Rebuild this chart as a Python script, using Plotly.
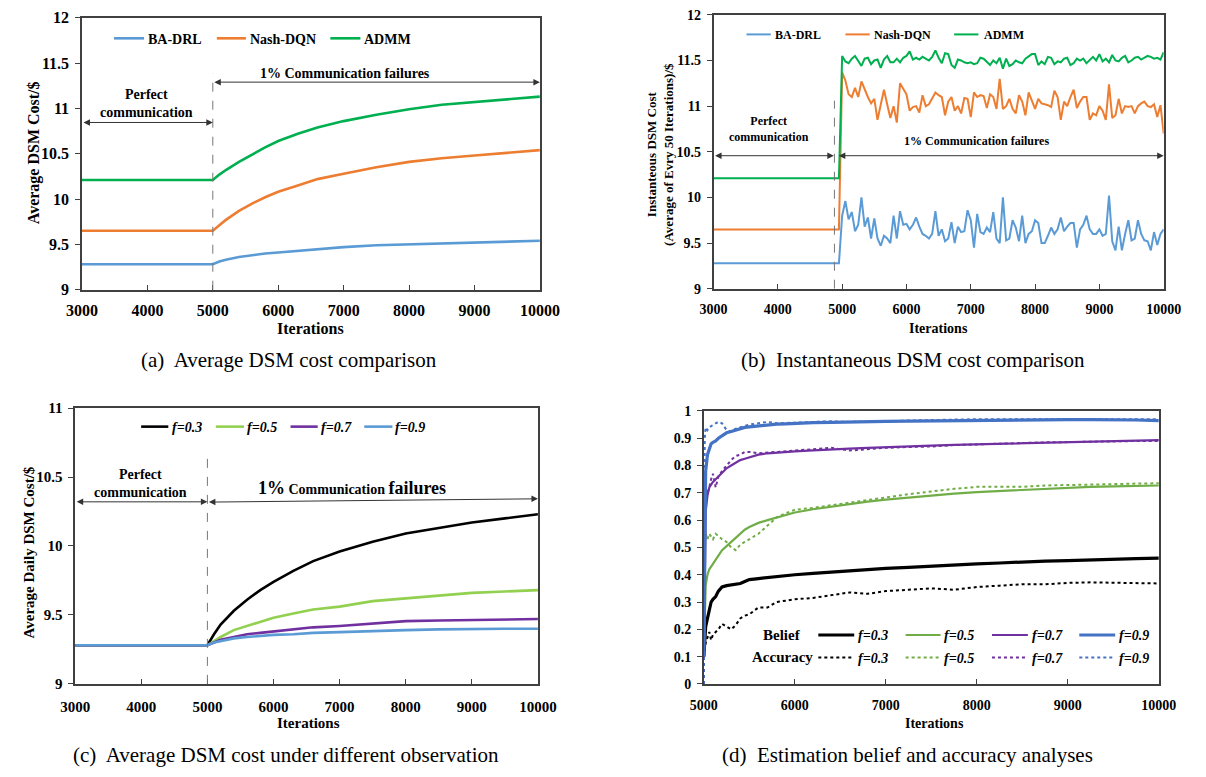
import numpy as np
import plotly.graph_objects as go

W, H = 1206, 777
SERIF = "Liberation Serif, Times New Roman, Times, DejaVu Serif, serif"

# ---------------- (a) average DSM cost ----------------
iters_a = [3000, 5000, 5100, 5200, 5400, 5600, 5800, 6000, 6300, 6600, 7000, 7500, 8000, 8500, 9000, 9500, 10000]
admm_a = [10.21, 10.21, 10.27, 10.32, 10.41, 10.49, 10.57, 10.64, 10.72, 10.79, 10.86, 10.93, 10.99, 11.04, 11.07, 11.10, 11.13]
nash_a = [9.65, 9.65, 9.71, 9.77, 9.87, 9.95, 10.02, 10.08, 10.15, 10.22, 10.28, 10.35, 10.41, 10.45, 10.48, 10.51, 10.54]
badrl_a = [9.28, 9.28, 9.31, 9.33, 9.36, 9.38, 9.40, 9.41, 9.43, 9.45, 9.47, 9.49, 9.50, 9.51, 9.52, 9.53, 9.54]

# ---------------- (b) instantaneous DSM cost (mean of every 50 iterations) ----------------
iters_b_flat = [3000, 4950]
admm_b_flat = [10.21, 10.21]
nash_b_flat = [9.65, 9.65]
badrl_b_flat = [9.28, 9.28]
iters_b_start, iters_b_end = 5000, 10000
admm_b = [11.55, 11.49, 11.47, 11.52, 11.55, 11.50, 11.44, 11.52, 11.53, 11.46,
          11.50, 11.51, 11.42, 11.51, 11.55, 11.48, 11.48, 11.52, 11.48, 11.53,
          11.55, 11.60, 11.51, 11.53, 11.51, 11.54, 11.52, 11.50, 11.54, 11.61,
          11.53, 11.47, 11.58, 11.57, 11.45, 11.42, 11.51, 11.50, 11.48, 11.47,
          11.48, 11.46, 11.47, 11.53, 11.52, 11.48, 11.45, 11.50, 11.47, 11.53,
          11.41, 11.52, 11.44, 11.46, 11.50, 11.48, 11.47, 11.52, 11.55, 11.57,
          11.57, 11.45, 11.49, 11.46, 11.54, 11.53, 11.46, 11.49, 11.48, 11.52,
          11.53, 11.45, 11.47, 11.52, 11.50, 11.52, 11.47, 11.51, 11.54, 11.50,
          11.57, 11.49, 11.52, 11.48, 11.56, 11.50, 11.49, 11.53, 11.55, 11.48,
          11.50, 11.53, 11.54, 11.51, 11.53, 11.55, 11.54, 11.52, 11.53, 11.51,
          11.59]
nash_b = [11.37, 11.28, 11.13, 11.10, 11.20, 11.10, 11.27, 11.18, 11.10, 11.03,
          11.08, 10.85, 11.00, 11.18, 11.02, 10.87, 11.00, 10.82, 11.25, 11.19,
          11.13, 10.95, 10.99, 11.00, 10.93, 11.12, 11.00, 11.02, 11.08, 11.15,
          11.12, 11.10, 10.90, 11.05, 11.10, 10.95, 11.00, 10.92, 11.09, 11.08,
          10.88, 11.15, 11.10, 11.12, 11.11, 10.98, 11.13, 11.10, 10.97, 11.30,
          10.97, 11.00, 11.08, 10.97, 10.92, 11.12, 11.05, 10.90, 11.15, 11.05,
          10.97, 11.08, 11.03, 11.02, 11.01, 10.99, 11.17, 11.10, 10.85, 11.05,
          11.00, 11.10, 11.18, 10.98, 11.05, 11.10, 11.10, 10.85, 10.92, 10.90,
          11.00, 10.95, 10.85, 11.24, 10.87, 10.90, 11.08, 10.92, 11.00, 10.99,
          11.00, 10.92, 11.00, 11.03, 11.05, 11.00, 10.99, 11.02, 10.88, 11.01,
          10.70]
badrl_b = [9.80, 9.96, 9.76, 9.84, 9.63, 9.70, 10.00, 9.68, 9.78, 9.55,
           9.77, 9.55, 9.47, 9.58, 9.55, 9.50, 9.80, 9.55, 9.85, 9.70,
           9.71, 9.65, 9.70, 9.78, 9.68, 9.60, 9.58, 9.55, 9.60, 9.85,
           9.58, 9.65, 9.52, 9.55, 9.73, 9.50, 9.68, 9.62, 9.63, 9.86,
           9.75, 9.45, 9.82, 9.62, 9.60, 9.67, 9.62, 9.84, 9.55, 9.50,
           10.00, 9.53, 9.55, 9.75, 9.67, 9.52, 9.80, 9.50, 9.60, 9.63,
           9.75, 9.72, 9.50, 9.50, 9.58, 9.67, 9.60, 9.65, 9.78, 9.63,
           9.68, 9.72, 9.72, 9.45, 9.65, 9.70, 9.80, 9.65, 9.60, 9.60,
           9.65, 9.58, 9.60, 10.02, 9.52, 9.42, 9.68, 9.42, 9.60, 9.75,
           9.53, 9.55, 9.75, 9.60, 9.53, 9.52, 9.42, 9.62, 9.48, 9.60,
           9.65]

# ---------------- (c) average daily DSM cost vs observation probability ----------------
iters_c = [3000, 5000, 5100, 5200, 5400, 5600, 5800, 6000, 6300, 6600, 7000, 7500, 8000, 8500, 9000, 9500, 10000]
f03_c = [9.28, 9.28, 9.36, 9.43, 9.53, 9.61, 9.68, 9.74, 9.82, 9.89, 9.96, 10.03, 10.09, 10.13, 10.17, 10.20, 10.23]
f05_c = [9.28, 9.28, 9.31, 9.34, 9.39, 9.42, 9.45, 9.48, 9.51, 9.54, 9.56, 9.60, 9.62, 9.64, 9.66, 9.67, 9.68]
f07_c = [9.28, 9.28, 9.30, 9.32, 9.34, 9.36, 9.37, 9.38, 9.395, 9.41, 9.42, 9.44, 9.455, 9.46, 9.465, 9.47, 9.47]
f09_c = [9.28, 9.28, 9.30, 9.31, 9.33, 9.34, 9.35, 9.355, 9.36, 9.37, 9.375, 9.385, 9.39, 9.395, 9.40, 9.40, 9.40]

# ---------------- (d) estimation belief and accuracy ----------------
iters_d = [5000, 5010, 5020, 5040, 5060, 5080, 5100, 5130, 5160, 5200, 5250, 5300, 5350, 5400, 5450, 5500,
           5600, 5700, 5800, 5900, 6000, 6200, 6400, 6600, 6800, 7000, 7250, 7500, 7750, 8000, 8250, 8500,
           8750, 9000, 9250, 9500, 9750, 10000]
belief_09 = [0.10, 0.62, 0.78, 0.84, 0.86, 0.88, 0.885, 0.89, 0.90, 0.91, 0.92, 0.925, 0.93, 0.935, 0.94, 0.942,
             0.946, 0.95, 0.952, 0.953, 0.955, 0.957, 0.958, 0.96, 0.96, 0.962, 0.963, 0.964, 0.965, 0.966, 0.967, 0.967,
             0.968, 0.968, 0.968, 0.968, 0.967, 0.965]
acc_09 = [0.0, 0.90, 0.94, 0.93, 0.94, 0.945, 0.95, 0.955, 0.96, 0.955, 0.93, 0.925, 0.935, 0.94, 0.945, 0.95,
          0.955, 0.96, 0.955, 0.955, 0.957, 0.96, 0.962, 0.96, 0.96, 0.962, 0.965, 0.967, 0.97, 0.97, 0.97, 0.97,
          0.97, 0.97, 0.97, 0.97, 0.97, 0.97]
belief_07 = [0.10, 0.55, 0.63, 0.69, 0.72, 0.73, 0.74, 0.75, 0.76, 0.775, 0.79, 0.80, 0.81, 0.82, 0.825, 0.83,
             0.84, 0.845, 0.848, 0.85, 0.852, 0.856, 0.86, 0.862, 0.865, 0.868, 0.87, 0.873, 0.876, 0.878, 0.88, 0.882,
             0.885, 0.887, 0.889, 0.89, 0.892, 0.893]
acc_07 = [0.0, 0.60, 0.68, 0.70, 0.72, 0.75, 0.77, 0.72, 0.76, 0.78, 0.80, 0.82, 0.835, 0.84, 0.85, 0.85,
          0.845, 0.848, 0.85, 0.853, 0.855, 0.86, 0.865, 0.855, 0.86, 0.865, 0.868, 0.87, 0.875, 0.878, 0.88, 0.883,
          0.885, 0.886, 0.888, 0.89, 0.89, 0.89]
belief_05 = [0.10, 0.30, 0.36, 0.40, 0.42, 0.43, 0.44, 0.455, 0.47, 0.49, 0.505, 0.52, 0.535, 0.55, 0.565, 0.575,
             0.59, 0.60, 0.61, 0.62, 0.628, 0.64, 0.65, 0.66, 0.668, 0.675, 0.683, 0.69, 0.697, 0.703, 0.707, 0.712,
             0.716, 0.72, 0.722, 0.724, 0.726, 0.727]
acc_05 = [0.0, 0.50, 0.55, 0.53, 0.55, 0.54, 0.53, 0.55, 0.54, 0.53, 0.52, 0.50, 0.49, 0.51, 0.52, 0.53,
          0.55, 0.58, 0.61, 0.625, 0.638, 0.645, 0.655, 0.665, 0.675, 0.683, 0.695, 0.705, 0.715, 0.722, 0.723, 0.722,
          0.727, 0.728, 0.73, 0.732, 0.734, 0.735]
belief_03 = [0.10, 0.17, 0.21, 0.24, 0.27, 0.30, 0.31, 0.32, 0.34, 0.355, 0.36, 0.362, 0.365, 0.368, 0.375, 0.382,
             0.386, 0.39, 0.394, 0.397, 0.40, 0.405, 0.41, 0.415, 0.419, 0.423, 0.427, 0.432, 0.436, 0.44, 0.443, 0.447,
             0.45, 0.452, 0.455, 0.457, 0.459, 0.461]
acc_03 = [0.10, 0.13, 0.15, 0.17, 0.19, 0.16, 0.18, 0.19, 0.20, 0.22, 0.21, 0.20, 0.215, 0.24, 0.25, 0.255,
          0.28, 0.28, 0.30, 0.305, 0.31, 0.315, 0.325, 0.335, 0.33, 0.34, 0.345, 0.35, 0.345, 0.355, 0.36, 0.365,
          0.365, 0.37, 0.372, 0.37, 0.368, 0.368]

# ---------------- colours ----------------
C_BLUE, C_ORANGE, C_GREEN = "#5B9BD5", "#ED7D31", "#00B050"
C_BLACK, C_LGREEN, C_PURPLE = "#000000", "#92D050", "#7030A0"
C_DGREEN, C_DBLUE = "#70AD47", "#4472C4"


def px(x):
    return x / W


def py(y):
    return 1 - y / H


fig = go.Figure()

# (a)
for name, ys, col in [("BA-DRL", badrl_a, C_BLUE), ("Nash-DQN", nash_a, C_ORANGE), ("ADMM", admm_a, C_GREEN)]:
    fig.add_trace(go.Scatter(x=iters_a, y=ys, mode="lines", name=name, line=dict(color=col, width=2.6),
                             xaxis="x", yaxis="y", showlegend=False))

# (b)
xb = np.linspace(iters_b_start, iters_b_end, len(admm_b))
for flat, noisy, col in [(badrl_b_flat, badrl_b, C_BLUE), (nash_b_flat, nash_b, C_ORANGE), (admm_b_flat, admm_b, C_GREEN)]:
    fig.add_trace(go.Scatter(x=list(iters_b_flat) + list(xb), y=list(flat) + list(noisy), mode="lines",
                             line=dict(color=col, width=2), xaxis="x2", yaxis="y2", showlegend=False))

# (c)
for ys, col in [(f03_c, C_BLACK), (f05_c, C_LGREEN), (f07_c, C_PURPLE), (f09_c, C_BLUE)]:
    fig.add_trace(go.Scatter(x=iters_c, y=ys, mode="lines", line=dict(color=col, width=2.6),
                             xaxis="x3", yaxis="y3", showlegend=False))

# (d)
d_styles = [(belief_03, acc_03, C_BLACK, 3.2), (belief_05, acc_05, C_DGREEN, 2.2),
            (belief_07, acc_07, C_PURPLE, 2.2), (belief_09, acc_09, C_DBLUE, 3.2)]
for bel, acc, col, w in d_styles:
    fig.add_trace(go.Scatter(x=iters_d, y=acc, mode="lines", line=dict(color=col, width=2, dash="dot"),
                             xaxis="x4", yaxis="y4", showlegend=False))
    fig.add_trace(go.Scatter(x=iters_d, y=bel, mode="lines", line=dict(color=col, width=w),
                             xaxis="x4", yaxis="y4", showlegend=False))

FRAME = "#404040"


def xax(domain, anchor, rng, size, standoff):
    return dict(domain=domain, anchor=anchor, range=rng, dtick=1000, tick0=3000, tickformat="d",
                showline=True, linecolor=FRAME, linewidth=1.5, mirror=True,
                ticks="inside", ticklen=5, tickcolor=FRAME, showgrid=False, zeroline=False,
                tickfont=dict(family=SERIF, size=size, color="#000", weight="bold"),
                ticklabelstandoff=standoff)


def yax(domain, anchor, rng, dtick, size):
    return dict(domain=domain, anchor=anchor, range=rng, dtick=dtick,
                showline=True, linecolor=FRAME, linewidth=1.5, mirror=True,
                ticks="outside", ticklen=5, tickcolor=FRAME, showgrid=False, zeroline=False,
                tickfont=dict(family=SERIF, size=size, color="#000", weight="bold"),
                ticklabelstandoff=3)


layout = dict(
    width=W, height=H, margin=dict(l=0, r=0, t=0, b=0),
    paper_bgcolor="white", plot_bgcolor="white", showlegend=False,
    font=dict(family=SERIF),
    xaxis=xax([px(68), px(540)], "y", [3000, 10000], 16, 5),
    yaxis=yax([py(288), py(10)], "x", [9, 12], 0.5, 16),
    xaxis2=xax([px(719), px(1183)], "y2", [3000, 10000], 14, 7),
    yaxis2=yax([py(287), py(7)], "x2", [9, 12], 0.5, 14),
    xaxis3=xax([px(61), px(538)], "y3", [3000, 10000], 15, 8),
    yaxis3=yax([py(691), py(409)], "x3", [9, 11], 0.5, 15),
    xaxis4=xax([px(709), px(1178)], "y4", [5000, 10000], 14, 8),
    yaxis4=yax([py(691), py(412)], "x4", [0, 1], 0.1, 14),
)
fig.update_layout(**layout)

ann = []
shapes = []


def text(x, y, s, size, bold=True, angle=0, xanchor="center"):
    ann.append(dict(x=px(x), y=py(y), xref="paper", yref="paper", text=s, showarrow=False,
                    textangle=angle, xanchor=xanchor, yanchor="middle",
                    font=dict(family=SERIF, size=size, color="#000", weight="bold" if bold else "normal")))


def darrow(xr, yr, x0, y0, x1, y1):
    ann.append(dict(x=x1, y=y1, ax=x0, ay=y0, xref=xr, yref=yr, axref=xr, ayref=yr, text="",
                    showarrow=True, arrowhead=2, arrowside="end+start", arrowsize=1.3,
                    arrowwidth=1, arrowcolor="#333"))


def legend_line(x0, x1, y, col, width, dash="solid"):
    shapes.append(dict(type="line", xref="paper", yref="paper", x0=px(x0), x1=px(x1), y0=py(y), y1=py(y),
                       line=dict(color=col, width=width, dash=dash)))


# axis titles
text(18, 148, "Average DSM Cost/$", 16, angle=-90)
text(304, 328, "Iterations", 16)
text(664, 150, "Instanteous DSM Cost<br>(Average of Evry 50 Iterations)/$", 13, angle=-90)
text(951, 328, "Iterations", 14)
text(13, 557, "Average Daily DSM Cost/$", 15, angle=-90)
text(302, 731, "Iterations", 15)
text(947, 731, "Iterations", 14)

# captions
text(281, 360, "(a)  Average DSM cost comparison", 21, bold=False)
text(925, 360, "(b)  Instantaneous DSM cost comparison", 21, bold=False)
text(278, 764, "(c)  Average DSM cost under different observation", 21, bold=False)
text(919, 764, "(d)  Estimation belief and accuracy analyses", 21, bold=False)

# (a) regions
shapes.append(dict(type="line", xref="x", yref="y", x0=5000, x1=5000, y0=9, y1=11.385,
                   line=dict(color="#777", width=1, dash="dash")))
text(134, 98, "Perfect<br>communication", 14)
darrow("x", "y", 3000, 10.845, 5000, 10.845)
text(339, 67, "1% Communication failures", 14)
darrow("x", "y", 5000, 11.29, 10000, 11.29)

# (b) regions
shapes.append(dict(type="line", xref="x2", yref="y2", x0=4880, x1=4880, y0=9, y1=11.06,
                   line=dict(color="#777", width=1, dash="dash")))
text(776, 124, "Perfect<br>communication", 12)
darrow("x2", "y2", 3000, 10.457, 4870, 10.457)
text(990, 136, "1% Communication failures", 12)
darrow("x2", "y2", 4925, 10.457, 10000, 10.457)

# (c) regions
shapes.append(dict(type="line", xref="x3", yref="y3", x0=5000, x1=5000, y0=9, y1=10.695,
                   line=dict(color="#777", width=1, dash="dash")))
text(128, 486, "Perfect<br>communication", 14)
darrow("x3", "y3", 3000, 10.32, 5000, 10.32)
text(346, 491, "<span style='font-size:18px'>1%</span> Communication <span style='font-size:18px'>failures</span>", 14)
darrow("x3", "y3", 5000, 10.318, 10000, 10.342)

# legends
for x0, x1, tx, label, col in [(101, 132, 134, "BA-DRL", C_BLUE), (207, 237, 239, "Nash-DQN", C_ORANGE),
                               (324, 355, 357, "ADMM", C_GREEN)]:
    legend_line(x0, x1, 31, col, 2.6)
    text(tx, 32, label, 14, xanchor="left")
for x0, x1, tx, label, col in [(753, 778, 780, "BA-DRL", C_BLUE), (855, 880, 882, "Nash-DQN", C_ORANGE),
                               (967, 992, 996, "ADMM", C_GREEN)]:
    legend_line(x0, x1, 27, col, 2)
    text(tx, 28, label, 12, xanchor="left")
for x0, x1, tx, label, col in [(129, 157, 159, "f=0.3", C_BLACK), (206, 235, 236, "f=0.5", C_LGREEN),
                               (283, 311, 312, "f=0.7", C_PURPLE), (359, 388, 389, "f=0.9", C_BLUE)]:
    legend_line(x0, x1, 428, col, 2.6)
    text(tx, 429, "<i>" + label + "</i>", 14, xanchor="left")
text(790, 641, "Belief", 15)
text(790, 664, "Accuracy", 15)
for (x0, x1, tx), (bel, acc, col, w), label in zip([(827, 864, 866), (917, 953, 955), (1006, 1043, 1045), (1096, 1133, 1135)],
                                                    d_styles, ["f=0.3", "f=0.5", "f=0.7", "f=0.9"]):
    legend_line(x0, x1, 641, col, w)
    legend_line(x0, x1, 664, col, 2, "dot")
    text(tx, 642, "<i>" + label + "</i>", 14, xanchor="left")
    text(tx, 665, "<i>" + label + "</i>", 14, xanchor="left")

fig.update_layout(annotations=ann, shapes=shapes)
fig.write_html("out.html")
